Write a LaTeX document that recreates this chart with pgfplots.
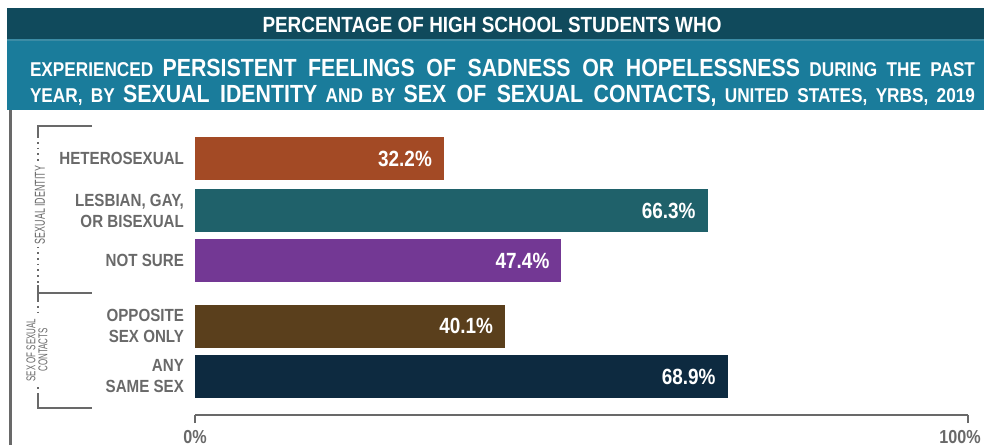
\documentclass[border=0pt]{standalone}
\usepackage{fontspec}
\setmainfont{Liberation Sans}[FakeStretch=0.86]
\newfontfamily\ccf{Liberation Sans}[FakeStretch=0.62]
\usepackage{pgfplots}
\pgfplotsset{compat=1.18}
\definecolor{hdark}{RGB}{16,74,92}
\definecolor{hlight}{RGB}{26,124,155}
\definecolor{hsep}{RGB}{60,140,165}
\definecolor{lgray}{RGB}{105,105,105}
\definecolor{cHet}{RGB}{163,74,37}
\definecolor{cLGB}{RGB}{31,97,106}
\definecolor{cNS}{RGB}{115,56,148}
\definecolor{cOpp}{RGB}{90,63,28}
\definecolor{cAny}{RGB}{13,42,64}
\newcommand{\smt}[1]{{\fontsize{10}{11}\selectfont #1}}
\newcommand{\lgt}[1]{{\fontsize{12.4}{13}\selectfont #1}}
\begin{document}
\begin{tikzpicture}[x=0.5pt,y=0.5pt]
\path[use as bounding box] (0,0) rectangle (984,445);
% header
\fill[hdark] (7,405) rectangle (984,437);
\fill[hlight] (7,335) rectangle (984,405);
\draw[hsep, line width=0.6pt] (7,405) -- (984,405);
\node[text=white, font=\bfseries\fontsize{11}{12}\selectfont] at (492,420) {PERCENTAGE OF HIGH SCHOOL STUDENTS WHO};
\node[text=white, font=\bfseries, inner sep=0pt] at (502.5,377) {\makebox[472.5pt][s]{\smt{EXPERIENCED} \lgt{PERSISTENT FEELINGS OF SADNESS OR HOPELESSNESS} \smt{DURING THE PAST}}};
\node[text=white, font=\bfseries, inner sep=0pt] at (502.5,349) {\makebox[472.5pt][s]{\smt{YEAR, BY} \lgt{SEXUAL IDENTITY} \smt{AND BY} \lgt{SEX OF SEXUAL CONTACTS,} \smt{UNITED STATES, YRBS, 2019}}};
% outer left frame line
\draw[lgray, line width=1.5pt] (10,0) -- (10,335);
% brackets
\begin{scope}[lgray, line width=0.9pt]
\draw (92,319) -- (38,319) -- (38,309);
\draw[dotted] (38,309) -- (38,160);
\draw (38,160) -- (38,145);
\draw (38,152) -- (92,152);
\draw[dotted] (38,145) -- (38,50);
\draw (38,50) -- (38,37) -- (92,37);
\end{scope}
\node[rotate=90, fill=white, text=lgray, font=\ccf\fontsize{7.2}{7}\selectfont, inner sep=1.5pt] at (40,240) {SEXUAL IDENTITY};
\node[rotate=90, fill=white, text=lgray, font=\ccf\fontsize{6.4}{6}\selectfont, align=center, inner sep=1.5pt] at (37,95) {SEX OF SEXUAL\\CONTACTS};
\coordinate (axpos) at (195,30);
\begin{axis}[
  at={(axpos)}, anchor=south west,
  scale only axis, width=386.5pt, height=143.5pt,
  xbar, bar width=43, bar shift=0pt,
  xmin=0, xmax=100, ymin=30, ymax=317,
  axis x line*=bottom, axis y line*=left,
  y axis line style={draw=none},
  x axis line style={-, draw=lgray, line width=1pt},
  xtick={0,100}, xticklabels={0\%,\kern-8pt 100\%},
  tick align=outside, major tick length=4pt,
  major x tick style={draw=lgray, line width=1pt},
  xticklabel style={text=lgray, font=\bfseries\fontsize{9.4}{10}\selectfont},
  ytick={286.5,234.5,184.5,119,68.5},
  yticklabels={HETEROSEXUAL,{LESBIAN, GAY,\\OR BISEXUAL},NOT SURE,{OPPOSITE\\SEX ONLY},{ANY\\SAME SEX}},
  yticklabel style={align=right, text=lgray, xshift=2pt, font=\bfseries\fontsize{8.8}{10.5}\selectfont},
  major y tick style={draw=none},
  point meta=x,
  /pgf/number format/assume math mode=true,
  nodes near coords={\pgfmathprintnumber[fixed,fixed zerofill,precision=1]{\pgfplotspointmeta}\%},
  every node near coord/.append style={anchor=east, xshift=-2.5pt, text=white, font=\bfseries\fontsize{11}{12}\selectfont},
  clip=false,
]
\addplot[fill=cHet, draw=none] coordinates {(32.2,286.5)};
\addplot[fill=cLGB, draw=none] coordinates {(66.3,234.5)};
\addplot[fill=cNS, draw=none] coordinates {(47.4,184.5)};
\addplot[fill=cOpp, draw=none] coordinates {(40.1,119)};
\addplot[fill=cAny, draw=none] coordinates {(68.9,68.5)};
\end{axis}
\end{tikzpicture}
\end{document}
